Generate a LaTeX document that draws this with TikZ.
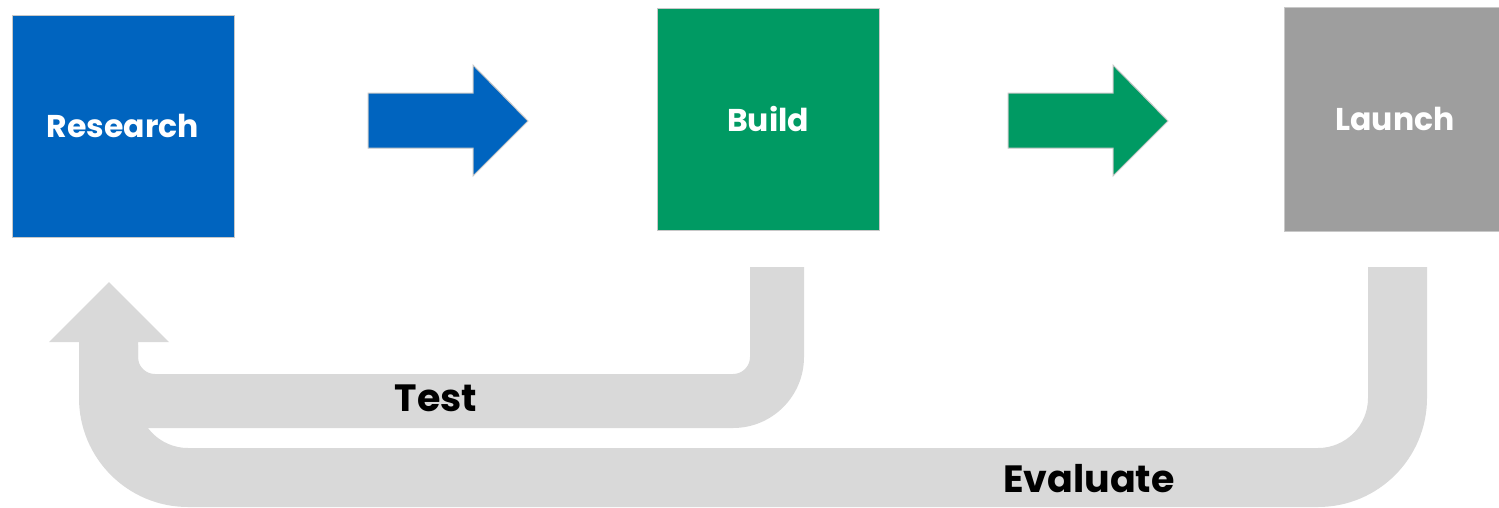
\documentclass[tikz,border=0pt]{standalone}
\usepackage{fontspec}
\setmainfont{Poppins}
\usepackage{tikz}
\usetikzlibrary{calc}
\definecolor{resblue}{HTML}{0064BF}
\definecolor{bldgreen}{HTML}{009A63}
\definecolor{lchgray}{HTML}{9E9E9E}
\definecolor{loopgray}{HTML}{D9D9D9}
\definecolor{rim}{HTML}{C8C8C8}
\tikzset{
  stage/.style={draw=rim, line width=1pt, minimum width=222pt, minimum height=222pt,
    inner sep=0pt, text=white, font=\fontsize{31.5}{36}\selectfont\bfseries},
  flow/.style={draw=rim, line width=1pt, line join=miter},
  back/.style={fill=loopgray, draw=none},
  backlab/.style={text=black, font=\fontsize{38}{44}\selectfont\bfseries},
}

\begin{document}
\begin{tikzpicture}[x=1pt,y=-1pt]
  \useasboundingbox (0,0) rectangle (1499,507);
  % stages
  \node[stage,fill=resblue]  (research) at (123,126)  {Research};
  \node[stage,fill=bldgreen] (build)    at (768,119.5) {Build};
  \node[stage,fill=lchgray,minimum height=224pt] (launch) at (1395,119) {Launch};
  % forward arrows
  \foreach \sx/\col in {368/resblue,1008/bldgreen}
    \filldraw[flow,fill=\col] (\sx,93) -- ++(105,0) -- ++(0,-28) -- ++(55,56)
      -- ++(-55,55) -- ++(0,-28) -- ++(-105,0) -- cycle;
  % evaluate loop
  \fill[back] (1368,267) -- (1368,398) arc[start angle=0,end angle=90,radius=50]
    -- (188,448) arc[start angle=90,end angle=180,radius=50]
    -- (138,342) -- (169,342) -- (109,282) -- (49,342) -- (79,342)
    -- (79,398) arc[start angle=180,end angle=90,radius=109]
    -- (1318,507) arc[start angle=90,end angle=0,radius=109]
    -- (1427,267) -- cycle;
  % test loop
  \fill[back] (750,267) -- (750,357) arc[start angle=0,end angle=90,radius=17]
    -- (155,374) arc[start angle=90,end angle=180,radius=17]
    -- (138,345) -- (100,345) -- (100,428)
    -- (733,428) arc[start angle=90,end angle=0,radius=71]
    -- (804,267) -- cycle;
  \node[backlab] (test) at (436,398) {Test};
  \node[backlab] (eval) at (1089,479) {Evaluate};
\end{tikzpicture}
\end{document}
